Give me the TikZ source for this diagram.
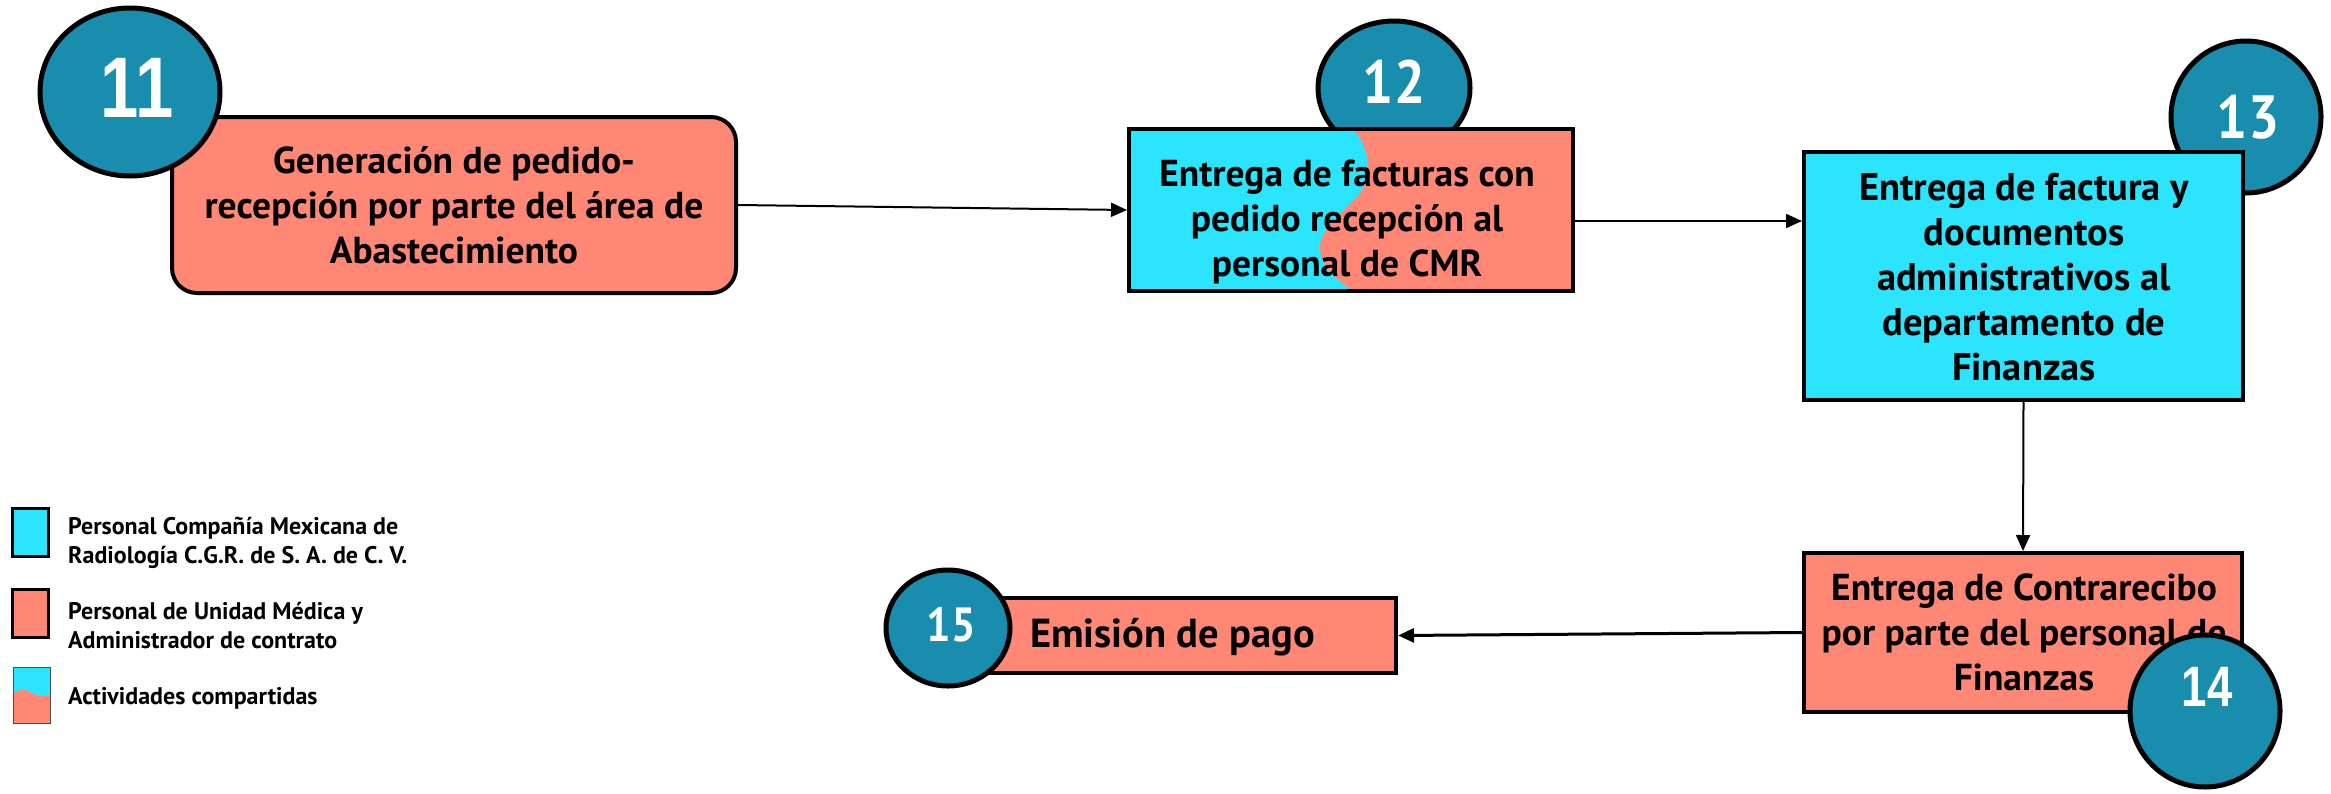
\documentclass[tikz,border=0pt]{standalone}
\usepackage{fontspec}
\setmainfont{PT Sans}
\newfontfamily\numA[FakeStretch=0.8]{Liberation Sans}
\newfontfamily\numB[FakeStretch=0.9]{PT Sans}
\usetikzlibrary{shapes.geometric,arrows.meta}
\definecolor{salmon}{HTML}{FF8776}
\definecolor{cyanb}{HTML}{2BE5FF}
\definecolor{tealc}{HTML}{188DAD}
\tikzset{
  boxst/.style={draw=black, line width=4pt, rectangle, inner sep=0pt},
  circst/.style={ellipse, draw=black, line width=5pt, fill=tealc, inner sep=0pt},
  bodytxt/.style={align=center, font=\fontsize{37.5}{45}\selectfont\bfseries, inner sep=0pt},
  legtxt/.style={align=left, anchor=west, font=\fontsize{24}{29}\selectfont\bfseries, inner sep=0pt},
  numtxt/.style={text=white, inner sep=0pt},
  arr/.style={line width=2pt, -{Triangle[length=16pt,width=14pt]}},
  legsq/.style={draw=black, line width=3pt, minimum width=36pt, minimum height=48pt, inner sep=0pt}
}
\begin{document}
\begin{tikzpicture}[x=1pt,y=-1pt]
\useasboundingbox (0,0) rectangle (2331,793);
% circles behind boxes
\node[circst, minimum width=152pt, minimum height=134pt] (c12) at (1394,88) {};
\node[numtxt, font=\numB\bfseries\fontsize{61}{61}\selectfont] (n12) at (1394,82) {12};
\node[circst, minimum width=150pt, minimum height=152pt] (c13) at (2246,117) {};
\node[numtxt, font=\numB\bfseries\fontsize{61}{61}\selectfont] (n13) at (2248,117) {13};
% box 11
\node[boxst, fill=salmon, rounded corners=25pt, minimum width=564pt, minimum height=176pt] (b11) at (454,205) {};
\node[bodytxt] (t11) at (454,205) {Generación de pedido-\\recepción por parte del área de\\Abastecimiento};
% box 12 (shared)
\fill[cyanb] (1129,129) rectangle (1573,291);
\fill[salmon] (1353,129) .. controls (1372,150) and (1372,180) .. (1357,197)
  .. controls (1338,217) and (1314,235) .. (1321,255)
  .. controls (1327,275) and (1345,285) .. (1353,291) -- (1573,291) -- (1573,129) -- cycle;
\node[boxst, minimum width=444pt, minimum height=162pt] (b12) at (1351,210) {};
\node[bodytxt] (t12) at (1347,222) {Entrega de facturas con\\pedido recepción al\\personal de CMR};
% box 13
\node[boxst, fill=cyanb, minimum width=439pt, minimum height=248pt] (b13) at (2023.5,276) {};
\node[bodytxt, font=\fontsize{38.5}{45}\selectfont\bfseries] (t13) at (2024,277) {Entrega de factura y\\documentos\\administrativos al\\departamento de\\Finanzas};
% box 14
\node[boxst, fill=salmon, minimum width=438pt, minimum height=159pt] (b14) at (2023,632.5) {};
\node[bodytxt] (t14) at (2024,632) {Entrega de Contrarecibo\\por parte del personal de\\Finanzas};
% box 15
\node[boxst, fill=salmon, minimum width=436pt, minimum height=75pt] (b15) at (1178,635.5) {};
\node[inner sep=0pt, anchor=west, font=\fontsize{40.5}{45}\selectfont\bfseries] (t15) at (1030,637) {Emisión de pago};
% circles in front
\node[circst, minimum width=180pt, minimum height=168pt] (c11) at (130,92) {};
\node[numtxt, font=\numA\bfseries\fontsize{86}{86}\selectfont] (n11) at (137,88) {11};
\node[circst, minimum width=150pt, minimum height=152pt] (c14) at (2205,711) {};
\node[numtxt, font=\numA\bfseries\fontsize{57}{57}\selectfont] (n14) at (2207,687) {14};
\node[circst, minimum width=124pt, minimum height=116pt] (c15) at (948,628) {};
\node[numtxt, font=\numB\bfseries\fontsize{48}{48}\selectfont] (n15) at (951,625) {15};
% connectors
\draw[arr] (b11.east) -- (b12.west);
\draw[arr] ([yshift=-11pt]b12.east) -- ([yshift=-11pt]b12.east -| b13.west);
\draw[arr] (b13.south) -- (b14.north);
\draw[arr, line width=3pt] (b14.west) -- (b15.east);
% legend
\node[legsq, fill=cyanb] (s1) at (30,532) {};
\node[legsq, fill=salmon] (s2) at (30,613.5) {};
\fill[cyanb] (13,667) rectangle (50,723);
\fill[salmon] (13,693) .. controls (18,690) and (24,688) .. (30,692) .. controls (36,696) and (44,697) .. (50,695) -- (50,723) -- (13,723) -- cycle;
\node[draw=black!70, line width=1pt, minimum width=37pt, minimum height=56pt, inner sep=0pt] (s3) at (31.5,695) {};
\node[legtxt] (l1) at (68,542.5) {Personal Compañía Mexicana de\\Radiología C.G.R. de S. A. de C. V.};
\node[legtxt] (l2) at (68,626) {Personal de Unidad Médica y\\Administrador de contrato};
\node[legtxt] (l3) at (68,698) {Actividades compartidas};
\end{tikzpicture}
\end{document}
